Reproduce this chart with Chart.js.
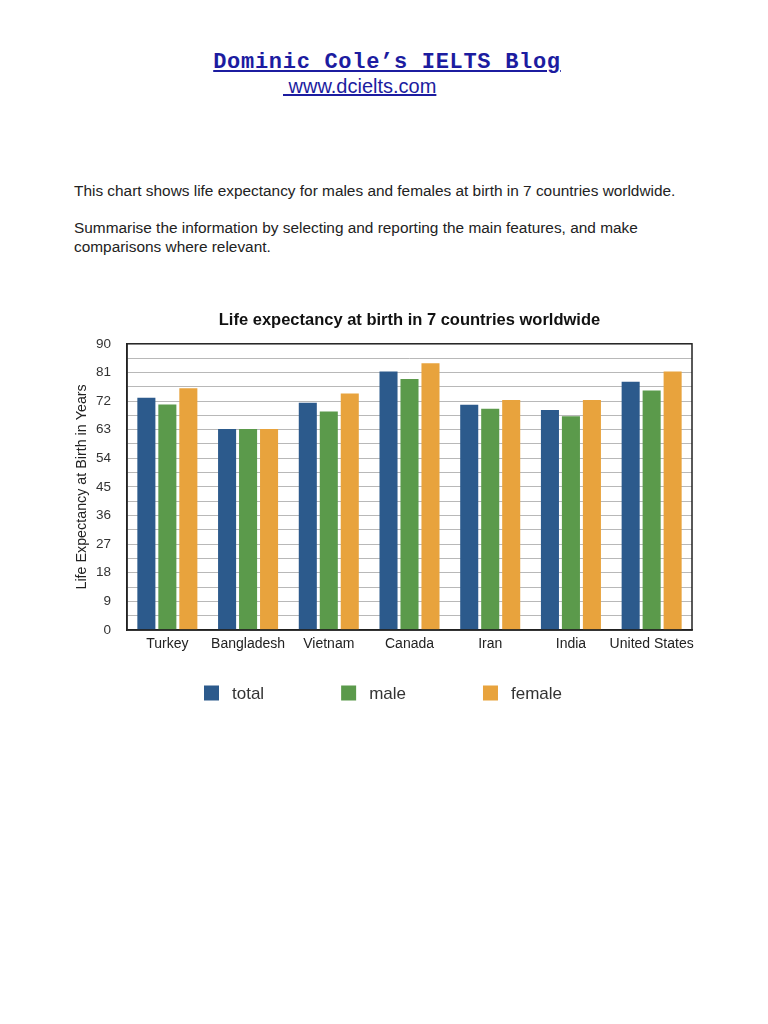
<!DOCTYPE html>
<html>
<head>
<meta charset="utf-8">
<script src="https://cdn.jsdelivr.net/npm/chart.js@4/dist/chart.umd.min.js"></script>
<style>
  body { margin: 0; background: #fff; width: 768px; height: 1024px; position: relative; font-family: "Liberation Sans", Arial, sans-serif; color: #222; }
  .blog { position: absolute; left: 3px; width: 768px; top: 50px; text-align: center; font-family: "Liberation Mono", "Courier New", monospace; font-weight: bold; font-size: 22px; letter-spacing: 0.7px; color: #1c1ca0; text-decoration: underline; }
  .site { position: absolute; left: 283px; top: 75px; font-size: 20px; color: #1c1ca0; text-decoration: underline; white-space: pre; }
  .txt { position: absolute; left: 74px; font-size: 15.4px; line-height: 19px; color: #222; }
  #lifeChart { position: absolute; left: 0; top: 300px; }
</style>
</head>
<body>
<div class="blog">Dominic Cole’s IELTS Blog</div>
<div class="site"> www.dcielts.com</div>
<div class="txt" style="top:181px">This chart shows life expectancy for males and females at birth in 7 countries worldwide.</div>
<div class="txt" style="top:218px">Summarise the information by selecting and reporting the main features, and make<br>comparisons where relevant.</div>
<canvas id="lifeChart" width="768" height="420"></canvas>

<script>
// data
const countries = ['Turkey', 'Bangladesh', 'Vietnam', 'Canada', 'Iran', 'India', 'United States'];
const totalValues = [73, 63.2, 71.5, 81.3, 70.8, 69.2, 78.1];
const maleValues = [70.9, 63.2, 68.7, 78.9, 69.6, 67.2, 75.3];
const femaleValues = [76, 63.2, 74.4, 83.9, 72.3, 72.3, 81.3];
const yTickLabels = [0, 9, 18, 27, 36, 45, 54, 63, 72, 81, 90];

const fontFamily = '"Liberation Sans", Arial, sans-serif';

// dark frame round the plot area
var plotFrame = {
  id: 'plotFrame',
  afterDraw: function(chart) {
    const ctx = chart.ctx;
    const a = chart.chartArea;
    ctx.save();
    ctx.strokeStyle = '#222';
    ctx.lineWidth = 1.5;
    ctx.strokeRect(a.left, a.top, a.right - a.left, a.bottom - a.top);
    ctx.restore();
  }
};

// legend with wide gaps between the items
var wideLegend = {
  id: 'wideLegend',
  afterDraw: function(chart) {
    const ctx = chart.ctx;
    let x = 204;
    const y = 393;
    ctx.save();
    ctx.font = '17px ' + fontFamily;
    ctx.textBaseline = 'middle';
    chart.data.datasets.forEach((ds) => {
      ctx.fillStyle = ds.backgroundColor;
      ctx.fillRect(x, y - 7.5, 15, 15);
      ctx.fillStyle = '#333';
      ctx.fillText(ds.label, x + 28, y + 1);
      x += 28 + ctx.measureText(ds.label).width + 77;
    });
    ctx.restore();
  }
};

let ctx = document.getElementById('lifeChart').getContext('2d');
let lifeChart = new Chart(ctx, {
  type: 'bar',
  data: {
    labels: countries,
    datasets: [{
      label: 'total',
      data: totalValues,
      backgroundColor: '#2c5a8c',
      barPercentage: 0.86,
      categoryPercentage: 0.78,
    },{
      label: 'male',
      data: maleValues,
      backgroundColor: '#5b9a4b',
      barPercentage: 0.86,
      categoryPercentage: 0.78,
    },{
      label: 'female',
      data: femaleValues,
      backgroundColor: '#e8a33d',
      barPercentage: 0.86,
      categoryPercentage: 0.78,
    }]
  },
  plugins: [plotFrame, wideLegend],
  options: {
    responsive: false,
    animation: false,
    events: [],
    layout: {
      padding: { left: 0, right: 76, top: 0, bottom: 68 }
    },
    plugins: {
      legend: { display: false },
      tooltip: { enabled: false },
      title: {
        display: true,
        text: 'Life expectancy at birth in 7 countries worldwide',
        fullSize: false,
        color: '#111',
        font: { family: fontFamily, size: 16.5, weight: 'bold' },
        padding: { top: 11, bottom: 13 }
      }
    },
    scales: {
      x: {
        grid: { display: false, drawTicks: false },
        border: { color: '#222', width: 1.5 },
        ticks: {
          color: '#222',
          padding: 6,
          maxRotation: 0,
          autoSkip: false,
          font: { family: fontFamily, size: 14 }
        },
        afterFit: function(scale) { scale.height = 22; }
      },
      y: {
        min: 0,
        max: 90,
        grid: { color: '#b8b8b8', drawTicks: false },
        border: { color: '#222', width: 1.5 },
        ticks: {
          stepSize: 4.5,
          maxTicksLimit: 30,
          autoSkip: false,
          color: '#333',
          padding: 16,
          font: { family: fontFamily, size: 13.5 },
          callback: function(value) {
            return yTickLabels.includes(value) ? value : '';
          }
        },
        title: {
          display: true,
          text: 'Life Expectancy at Birth in Years',
          color: '#222',
          font: { family: fontFamily, size: 14.3 },
          padding: { top: 73, bottom: 0 }
        },
        afterFit: function(scale) { scale.width = 127; }
      }
    }
  }
});
</script>
</body>
</html>
